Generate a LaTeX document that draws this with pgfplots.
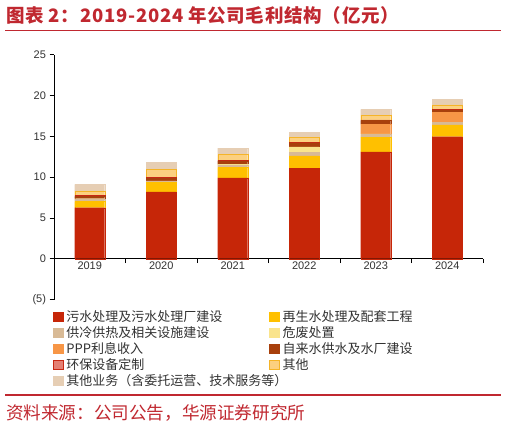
\documentclass[border=0pt]{standalone}
\usepackage{fontspec}
\setmainfont{Liberation Sans}
\newfontfamily\cjk{Noto Sans CJK SC}
\newfontfamily\cjktitle[LetterSpace=4]{Noto Sans CJK SC}
\usepackage{pgfplots}
\usepackage{pgfplotstable}
\pgfplotsset{compat=1.18}

\definecolor{titlered}{RGB}{192,40,48}
\definecolor{cWushui}{RGB}{198,38,8}
\definecolor{cZaisheng}{RGB}{255,192,0}
\definecolor{cGongre}{RGB}{216,186,150}
\definecolor{cWeifei}{RGB}{250,228,140}
\definecolor{cPPP}{RGB}{247,150,70}
\definecolor{cZilai}{RGB}{168,64,12}
\definecolor{cHuanbao}{RGB}{228,128,116}
\definecolor{cHuanbaoEdge}{RGB}{200,40,20}
\definecolor{cQita}{RGB}{252,208,128}
\definecolor{cQitaEdge}{RGB}{245,180,40}
\definecolor{cYewu}{RGB}{230,206,180}
\definecolor{ticktext}{RGB}{50,50,50}

% gross profit by segment, 100 million yuan (x: 0=2019 ... 5=2024)
\pgfplotstableread{
x wushui zaisheng gongre weifei ppp zilai huanbao qita yewu
0 6.25  0.75 0.30 0.05 0.00 0.30 0.10 0.55 0.80
1 8.20  1.15 0.15 0.05 0.00 0.30 0.10 1.00 0.85
2 9.90  1.30 0.30 0.05 0.00 0.45 0.05 0.70 0.80
3 11.10 1.50 0.45 0.65 0.00 0.50 0.05 0.60 0.60
4 13.10 1.80 0.35 0.05 1.20 0.45 0.05 0.60 0.70
5 14.95 1.45 0.30 0.05 1.20 0.30 0.05 0.55 0.70
}\profit

\newcommand{\lentry}[1]{\makebox[200bp][l]{\cjk #1}}

\begin{document}
\begin{tikzpicture}
\useasboundingbox (0,0) rectangle (506bp,428bp);

% title and rules
\node[anchor=base west, inner sep=0pt, text=titlered,
      font=\cjktitle\bfseries\fontsize{18.5bp}{20bp}\selectfont]
  at (6bp,405.5bp) {图表 2：2019-2024 年公司毛利结构（亿元）};
\draw[titlered, line width=1.6bp] (5bp,397.3bp) -- (501bp,397.3bp);
\draw[titlered, line width=1.4bp] (5bp,33bp) -- (501bp,33bp);
\node[anchor=west, inner sep=0pt, text=titlered,
      font=\cjk\fontsize{17.6bp}{19bp}\selectfont]
  at (6bp,15bp) {资料来源：公司公告，华源证券研究所};

\begin{axis}[
  at={(54bp,128.5bp)}, anchor=south west,
  scale only axis,
  width=429bp, height=244.8bp,
  ybar stacked, bar width=30bp,
  xmin=-0.5, xmax=5.5,
  ymin=-5, ymax=25,
  axis x line*=middle,
  axis y line*=left,
  tick align=outside,
  major tick length=4.5bp,
  xtick={0.5,1.5,2.5,3.5,4.5,5.5},
  xticklabels={},
  extra x ticks={0,1,2,3,4,5},
  extra x tick labels={2019,2020,2021,2022,2023,2024},
  extra x tick style={major tick length=0bp},
  ytick={-5,0,5,10,15,20,25},
  yticklabels={(5),0,5,10,15,20,25},
  tick label style={font=\fontsize{11bp}{12bp}\selectfont, text=ticktext},
  /pgf/number format/assume math mode=true,
  axis line style={black, line width=0.8bp},
  tick style={black, line width=0.8bp},
  legend columns=2,
  legend cell align=left,
  legend style={at={(-0.009,-0.036)}, anchor=north west, draw=none, fill=none,
    font=\fontsize{13bp}{13bp}\selectfont, text=ticktext,
    row sep=2.4bp, column sep=0bp,
    nodes={inner ysep=0.5bp, inner xsep=3bp}},
  legend image code/.code={\draw[#1, line width=0.9bp] (0bp,-4.6bp) rectangle (9.2bp,4.6bp);},
]
\addplot[fill=cWushui, draw=cWushui] table[x=x, y=wushui] {\profit};
\addlegendentry{\lentry{污水处理及污水处理厂建设}}
\addplot[fill=cZaisheng, draw=cZaisheng] table[x=x, y=zaisheng] {\profit};
\addlegendentry{\lentry{再生水处理及配套工程}}
\addplot[fill=cGongre, draw=cGongre] table[x=x, y=gongre] {\profit};
\addlegendentry{\lentry{供冷供热及相关设施建设}}
\addplot[fill=cWeifei, draw=cWeifei] table[x=x, y=weifei] {\profit};
\addlegendentry{\lentry{危废处置}}
\addplot[fill=cPPP, draw=cPPP] table[x=x, y=ppp] {\profit};
\addlegendentry{\lentry{PPP利息收入}}
\addplot[fill=cZilai, draw=cZilai] table[x=x, y=zilai] {\profit};
\addlegendentry{\lentry{自来水供水及水厂建设}}
\addplot[fill=cHuanbao, draw=cHuanbaoEdge] table[x=x, y=huanbao] {\profit};
\addlegendentry{\lentry{环保设备定制}}
\addplot[fill=cQita, draw=cQitaEdge] table[x=x, y=qita] {\profit};
\addlegendentry{\lentry{其他}}
\addplot[fill=cYewu, draw=cYewu] table[x=x, y=yewu] {\profit};
\addlegendentry{\lentry{其他业务（含委托运营、技术服务等）}}
\end{axis}
\end{tikzpicture}
\end{document}
